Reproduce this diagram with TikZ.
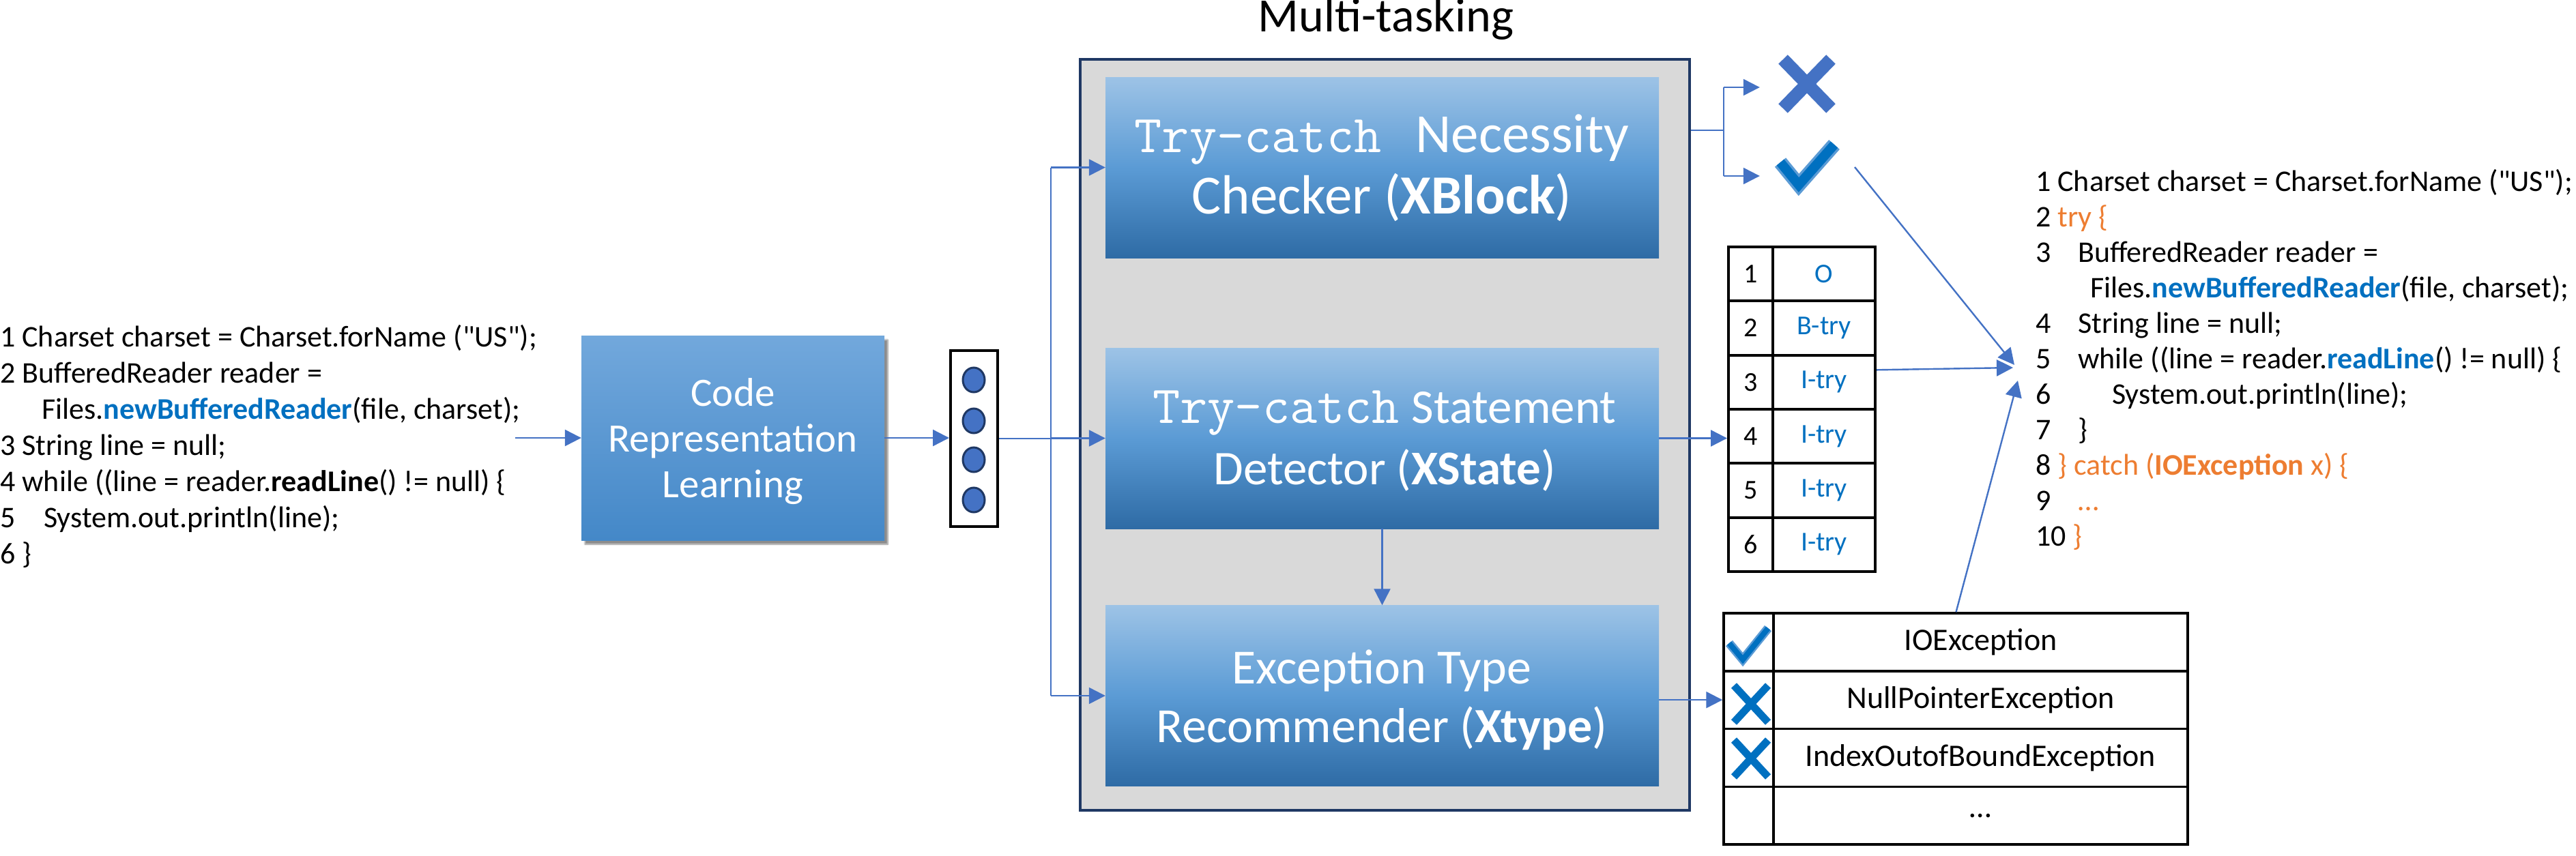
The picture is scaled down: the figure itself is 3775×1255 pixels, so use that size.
\documentclass[tikz,border=0pt]{standalone}
\usepackage{fontspec}
\setmainfont{Carlito}[Ligatures=TeXOff]
\usetikzlibrary{arrows.meta,calc,shapes.geometric,shadows.blur}
\definecolor{arrowblue}{HTML}{4472C4}
\definecolor{navy}{HTML}{1F3864}
\definecolor{panelgray}{HTML}{D9D9D9}
\definecolor{codeblue}{HTML}{0070C0}
\definecolor{codeorange}{HTML}{ED7D31}
\definecolor{boxtop}{HTML}{9DC3E6}
\definecolor{boxmid}{HTML}{5B9BD5}
\definecolor{boxbot}{HTML}{2E6BA5}
\definecolor{crltop}{HTML}{72A8DC}
\definecolor{crlbot}{HTML}{4488C8}
\definecolor{lightblue}{HTML}{5B9BD5}
\newcommand\fsz[1]{\fontsize{#1pt}{#1pt}\selectfont}
\begin{document}
\begin{tikzpicture}[x=1pt,y=-1pt,
  conn/.style={draw=arrowblue, line width=2.4pt},
  arr/.style={conn, -{Triangle[length=24pt,width=24pt]}},
  code/.style={anchor=base west, inner sep=0pt, font=\fsz{44}},
  bluebox/.style={rectangle, inner sep=0pt, minimum width=811pt, minimum height=265pt,
    top color=boxtop, bottom color=boxbot, middle color=boxmid},
  boxtxt/.style={anchor=base, inner sep=0pt, text=white},
  dot/.style={ellipse, inner sep=0pt, minimum width=32pt, minimum height=36pt,
    fill=arrowblue, draw=navy, line width=3pt},
  numcell/.style={rectangle, draw=black, line width=4pt, inner sep=0pt,
    minimum width=65pt, minimum height=79.33pt, font=\fsz{40}},
  labcell/.style={numcell, minimum width=150pt, text=codeblue},
  iconcell/.style={rectangle, draw=black, line width=3.5pt, inner sep=0pt,
    minimum width=73pt, minimum height=84.75pt},
  exccell/.style={iconcell, minimum width=607pt, font=\fsz{46}}
]
\useasboundingbox (0,0) rectangle (3775,1255);

% ---------------- left code ----------------
\node[code] (l1) at (0,508) {1 Charset charset = Charset.forName ("US");};
\node[code] (l2) at (0,561) {2 BufferedReader reader =};
\node[code] (l3) at (61,614) {Files.\textcolor{codeblue}{\bfseries newBufferedReader}(file, charset);};
\node[code] (l4) at (0,667) {3 String line = null;};
\node[code] (l5) at (0,720) {4 while ((line = reader.\textbf{readLine}() != null) \{};
\node[code] (l6) at (0,773) {\makebox[64pt][l]{5}System.out.println(line);};
\node[code] (l7) at (0,826) {6 \}};

% ---------------- code representation learning ----------------
\node[rectangle, inner sep=0pt, minimum width=444pt, minimum height=300pt,
  top color=crltop, bottom color=crlbot,
  blur shadow={shadow xshift=5pt, shadow yshift=-6pt, shadow opacity=45, shadow blur steps=8}]
  (crl) at (1074,642) {};
\node[boxtxt, font=\fsz{59}] (crl1) at (1074,595) {Code};
\node[boxtxt, font=\fsz{59}] (crl2) at (1074,662) {Representation};
\node[boxtxt, font=\fsz{59}] (crl3) at (1074,729) {Learning};

\coordinate (codein) at (755,642);
\draw[arr] (codein) -- (crl.west);

% ---------------- vector ----------------
\node[rectangle, draw=black, line width=4pt, fill=white, inner sep=0pt,
  minimum width=69pt, minimum height=258pt] (vec) at (1427.5,643) {};
\node[dot] (c1) at (1427,557) {};
\node[dot] (c2) at (1427,617) {};
\node[dot] (c3) at (1427,674) {};
\node[dot] (c4) at (1427,733) {};
\draw[arr] (crl.east) -- (crl.east -| vec.west);

% ---------------- multi-tasking panel ----------------
\node[anchor=base, inner sep=0pt, font=\fsz{70}] (title) at (2031,47) {Multi-tasking};
\node[rectangle, draw=navy, line width=4pt, fill=panelgray, inner sep=0pt,
  minimum width=893pt, minimum height=1101pt] (outer) at (2029.5,637.5) {};

\node[bluebox] (xblock) at (2025.5,245.5) {};
\node[bluebox] (xstate) at (2025.5,642.5) {};
\node[bluebox] (xtype)  at (2025.5,1020) {};

\node[boxtxt] (xb1) at (2025,223) {\fsz{78}\ttfamily Try-catch\hspace{50pt}\fsz{81}\rmfamily Necessity};
\node[boxtxt, font=\fsz{81}] (xb2) at (2025,313) {Checker (\textbf{XBlock})};
\node[boxtxt] (xs1) at (2029,620) {\fsz{78}\ttfamily Try-catch\hspace{18pt}\fsz{71}\rmfamily Statement};
\node[boxtxt, font=\fsz{71}] (xs2) at (2029,710) {Detector (\textbf{XState})};
\node[boxtxt, font=\fsz{72}] (xt1) at (2025,1002) {Exception Type};
\node[boxtxt, font=\fsz{72}] (xt2) at (2025,1088) {Recommender (\textbf{Xtype})};

% trunk
\coordinate (trunk) at (1540,643);
\draw[conn] (vec.east) -- (trunk);
\draw[conn] (trunk |- xblock.west) -- (trunk |- xtype.west);
\draw[arr] (trunk |- xblock.west) -- (xblock.west);
\draw[arr] (trunk |- xstate.west) -- (xstate.west);
\draw[arr] (trunk |- xtype.west) -- (xtype.west);
\draw[arr] (xstate.south) -- (xtype.north);

% ---------------- XBlock outputs ----------------
\node[inner sep=0pt, minimum width=138pt, minimum height=90pt] (cross) at (2648,128) {};
\node[inner sep=0pt, minimum width=138pt, minimum height=90pt] (tick) at (2648,258) {};
\draw[line width=19pt, arrowblue] (2613,87) -- (2683,159) (2683,87) -- (2613,159);
\draw[line width=21pt, lightblue, miter limit=10] (2609,238) -- (2636,271) -- (2688,212);
\draw[line width=14pt, codeblue, miter limit=10] (2609,238) -- (2636,271) -- (2688,212);
\coordinate (fork) at (2526,191);
\draw[conn] (outer.east |- fork) -- (fork);
\draw[conn] (fork |- cross.west) -- (fork |- tick.west);
\draw[arr] (fork |- cross.west) -- (cross.west);
\draw[arr] (fork |- tick.west) -- (tick.west);

% ---------------- XState table ----------------
\foreach \i/\lab in {1/O, 2/B-try, 3/I-try, 4/I-try, 5/I-try, 6/I-try} {
  \node[numcell] (t1n\i) at (2565.5, {362+79.33*(\i-0.5)}) {\i};
  \node[labcell] (t1l\i) at (2673, {362+79.33*(\i-0.5)}) {\lab};
}
\draw[arr] (xstate.east) -- (xstate.east -| t1n4.west);

% ---------------- Xtype table ----------------
\foreach \i/\lab in {1/IOException, 2/NullPointerException, 3/IndexOutofBoundException, 4/\ldots} {
  \node[iconcell] (t2i\i) at (2562.5, {899+84.75*(\i-0.5)}) {};
  \node[exccell] (t2l\i) at (2902.5, {899+84.75*(\i-0.5)}) {\lab};
}
\draw[line width=13pt, lightblue, miter limit=10] (2534,943) -- (2554,967) -- (2591,921);
\draw[line width=8pt, codeblue, miter limit=10] (2534,943) -- (2554,967) -- (2591,921);
\draw[line width=11pt, codeblue] (2541,1005) -- (2591,1059) (2591,1005) -- (2541,1059);
\draw[line width=11pt, codeblue] (2541,1085) -- (2591,1139) (2591,1085) -- (2541,1139);
\draw[arr] (xtype.east |- t2i2.west) -- (t2i2.west);

% ---------------- right code ----------------
\node[code] (r1) at (2983,280) {1 Charset charset = Charset.forName ("US");};
\node[code] (r2) at (2983,332) {2 \textcolor{codeorange}{try \{}};
\node[code] (r3) at (2983,384) {\makebox[62pt][l]{3}BufferedReader reader =};
\node[code] (r4) at (3063,436) {Files.\textcolor{codeblue}{\bfseries newBufferedReader}(file, charset);};
\node[code] (r5) at (2983,488) {\makebox[62pt][l]{4}String line = null;};
\node[code] (r6) at (2983,540) {\makebox[62pt][l]{5}while ((line = reader.\textcolor{codeblue}{\bfseries readLine}() != null) \{};
\node[code] (r7) at (2983,592) {\makebox[112pt][l]{6}System.out.println(line);};
\node[code] (r8) at (2983,644) {\makebox[62pt][l]{7}\}};
\node[code] (r9) at (2983,696) {8 \textcolor{codeorange}{\} catch (\textbf{IOException} x) \{}};
\node[code] (r10) at (2983,748) {\makebox[62pt][l]{9}\textcolor{codeorange}{\ldots}};
\node[code] (r11) at (2983,800) {10 \textcolor{codeorange}{\}}};

% converging arrows
\coordinate (tickout) at (2718,245);
\coordinate (conv1) at (2952,535);
\coordinate (conv2) at (2950,539);
\coordinate (conv3) at (2957,558);
\draw[arr] (tickout) -- (conv1);
\draw[arr] ($(t1l3.east)+(0,-18)$) -- (conv2);
\draw[arr] ($(t2l1.north)+(-36,0)$) -- (conv3);
\end{tikzpicture}
\end{document}
